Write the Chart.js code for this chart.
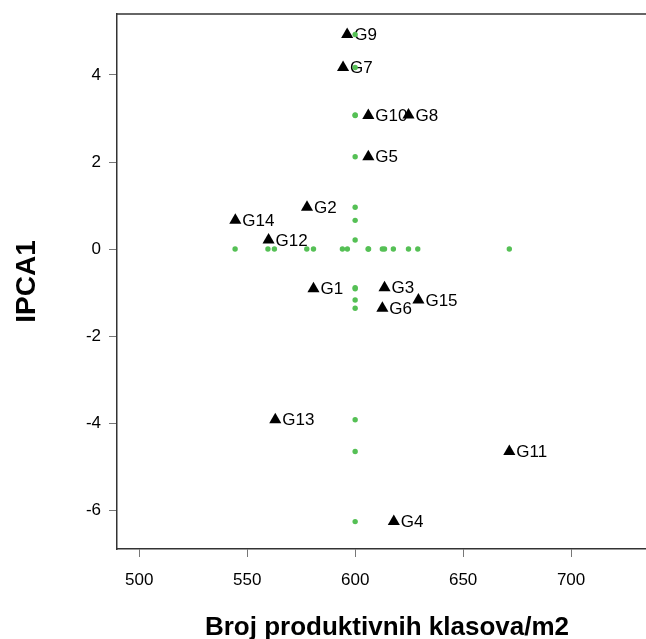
<!DOCTYPE html>
<html>
<head>
<meta charset="utf-8">
<title>IPCA1 / Broj produktivnih klasova</title>
<script src="https://cdn.jsdelivr.net/npm/chart.js@4"></script>
<style>
    html, body { margin: 0; padding: 0; background: #fff; overflow: hidden; width: 646px; height: 639px; }
    #wrap { width: 657px; height: 639px; position: relative; }
</style>
</head>
<body>
<div id="wrap"><canvas id="chart"></canvas></div>
<script>
const genotypes = ['G1', 'G2', 'G3', 'G4', 'G5', 'G6', 'G7', 'G8', 'G9', 'G10', 'G11', 'G12', 'G13', 'G14', 'G15'];
const klasovi = [580.7, 577.7, 613.6, 617.9, 606.1, 612.6, 594.4, 624.7, 596.3, 606.1, 671.4, 559.9, 563.0, 544.5, 629.3];
const ipca1 = [-0.91, 0.96, -0.89, -6.26, 2.12, -1.36, 4.17, 3.08, 4.93, 3.07, -4.65, 0.21, -3.92, 0.66, -1.17];

// green projection dots: a row on IPCA1 = 0 and a column at x = 600
const rowDotsX = [580.7, 577.6, 613.6, 617.7, 606.0, 612.6, 594.1, 624.7, 596.4, 606.2, 671.4, 559.6, 562.6, 544.4, 629.0];
const columnDotX = [600.0];
const columnDotsY = [-0.91, 0.96, -0.89, -6.26, 2.12, -1.36, 4.17, 3.08, 4.93, 3.07, -4.65, 0.21, -3.92, 0.66, -1.17];

const xTicks = [500, 550, 600, 650, 700];
const yTicks = [-6, -4, -2, 0, 2, 4];

const FONT = "'Liberation Sans', Arial, sans-serif";

document.addEventListener('DOMContentLoaded', function () {
    const canvas = document.getElementById('chart');

    const genotypePoints = klasovi.map(function (x, i) {
        return { x: x, y: ipca1[i] };
    });
    const greenPoints = rowDotsX.map(function (x) {
        return { x: x, y: 0 };
    }).concat(columnDotsY.map(function (y) {
        return { x: columnDotX[0], y: y };
    }));

    const pointLabels = {
        id: 'pointLabels',
        beforeDatasetsDraw: function (chart) {
            const meta = chart.getDatasetMeta(1);
            const ctx = chart.ctx;
            ctx.save();
            ctx.fillStyle = '#000';
            ctx.font = '17px ' + FONT;
            ctx.textAlign = 'left';
            ctx.textBaseline = 'middle';
            meta.data.forEach(function (el, i) {
                ctx.fillText(genotypes[i], el.x + 7, el.y + 1);
            });
            ctx.restore();
        }
    };

    const topBorder = {
        id: 'topBorder',
        afterDraw: function (chart) {
            const area = chart.chartArea;
            const ctx = chart.ctx;
            ctx.save();
            ctx.strokeStyle = '#333';
            ctx.lineWidth = 1.5;
            ctx.beginPath();
            ctx.moveTo(area.left, area.top);
            ctx.lineTo(area.right, area.top);
            ctx.stroke();
            ctx.restore();
        }
    };

    new Chart(canvas, {
        type: 'scatter',
        data: {
            datasets: [
                {
                    label: 'projekcije',
                    data: greenPoints,
                    backgroundColor: '#55c055',
                    borderWidth: 0,
                    pointRadius: 2.7
                },
                {
                    label: 'genotipovi',
                    data: genotypePoints,
                    pointStyle: 'triangle',
                    backgroundColor: '#000',
                    borderColor: '#000',
                    borderWidth: 0,
                    pointRadius: 7
                }
            ]
        },
        options: {
            responsive: true,
            maintainAspectRatio: false,
            animation: false,
            layout: {
                autoPadding: false,
                padding: { top: 14, right: 0, bottom: 0, left: 0 }
            },
            plugins: {
                legend: { display: false },
                tooltip: { enabled: false }
            },
            scales: {
                x: {
                    type: 'linear',
                    min: 489.7,
                    max: 739.8,
                    afterBuildTicks: function (scale) {
                        scale.ticks = xTicks.map(function (v) { return { value: v }; });
                    },
                    afterFit: function (scale) {
                        scale.height = 90;
                        scale.paddingLeft = 0;
                        scale.paddingRight = 0;
                    },
                    border: { display: true, color: '#333', width: 1.5 },
                    grid: { drawOnChartArea: false, drawTicks: true, tickLength: 8, color: '#777' },
                    ticks: {
                        color: '#000',
                        padding: 13,
                        maxRotation: 0,
                        font: { family: FONT, size: 17 }
                    },
                    title: {
                        display: true,
                        text: 'Broj produktivnih klasova/m2',
                        color: '#000',
                        padding: { top: 0, bottom: -4 },
                        font: { family: FONT, size: 26, weight: 'bold' }
                    }
                },
                y: {
                    type: 'linear',
                    min: -6.89,
                    max: 5.40,
                    afterBuildTicks: function (scale) {
                        scale.ticks = yTicks.map(function (v) { return { value: v }; });
                    },
                    afterFit: function (scale) {
                        scale.width = 117;
                        scale.paddingTop = 0;
                        scale.paddingBottom = 0;
                    },
                    border: { display: true, color: '#333', width: 1.5 },
                    grid: { drawOnChartArea: false, drawTicks: true, tickLength: 8, color: '#777' },
                    ticks: {
                        color: '#000',
                        padding: 8,
                        font: { family: FONT, size: 17 }
                    },
                    title: {
                        display: true,
                        text: 'IPCA1',
                        color: '#000',
                        padding: { top: 10, bottom: 0 },
                        font: { family: FONT, size: 28, weight: 'bold' }
                    }
                }
            }
        },
        plugins: [pointLabels, topBorder]
    });
});
</script>
</body>
</html>
